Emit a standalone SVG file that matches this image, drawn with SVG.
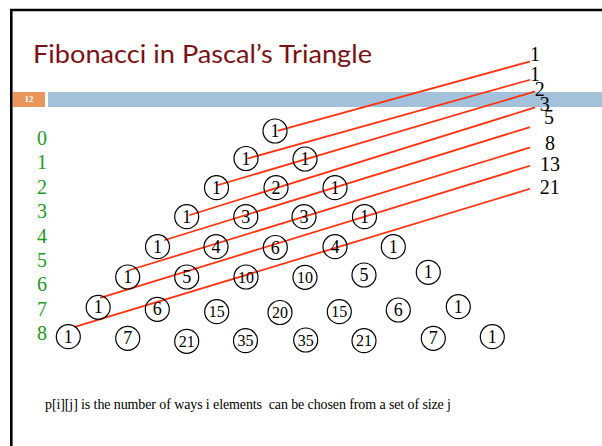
<svg xmlns="http://www.w3.org/2000/svg" width="602" height="446" viewBox="0 0 602 446">
<style>
.c circle{fill:none;stroke:#000;stroke-width:1.2}
.c text{font-family:"Liberation Serif","Times New Roman",serif;font-size:18px;fill:#000;text-anchor:middle}
.c text.d{font-size:16px}
.lab{font-family:"Liberation Serif","Times New Roman",serif;font-size:20px;fill:#229922}
.fib{font-family:"Liberation Serif","Times New Roman",serif;font-size:20px;fill:#000;text-anchor:middle}
.ln line{stroke:#ff3311;stroke-width:1.8;stroke-linecap:round}
</style>
<rect width="602" height="446" fill="#fff"/>
<path d="M11.3 446 V10 H602" fill="none" stroke="#000" stroke-width="2.6"/>
<text x="33" y="62.7" font-family="Lato,'Open Sans',sans-serif" font-size="25" fill="#7a1116" textLength="339" lengthAdjust="spacingAndGlyphs">Fibonacci in Pascal’s Triangle</text>
<rect x="13" y="92" width="32" height="15" fill="#e8965a"/>
<rect x="48" y="92" width="554" height="15" fill="#a3c1da"/>
<text x="29" y="101.7" font-family="'Liberation Serif',serif" font-size="9" font-weight="bold" fill="#fff" text-anchor="middle">12</text>

<g id="row-labels" class="lab">
<text x="37" y="145">0</text>
<text x="37" y="169.4">1</text>
<text x="37" y="193.8">2</text>
<text x="37" y="218.2">3</text>
<text x="37" y="242.6">4</text>
<text x="37" y="267">5</text>
<text x="37" y="291.4">6</text>
<text x="37" y="315.8">7</text>
<text x="37" y="340.2">8</text>
</g>

<g id="connectors" class="ln">
<line x1="278.3" y1="130.7" x2="529.3" y2="61.7"/>
<line x1="248.3" y1="158.3" x2="529.3" y2="80"/>
<line x1="218.3" y1="185" x2="534.3" y2="91.7"/>
<line x1="190" y1="215" x2="534.3" y2="107.7"/>
<line x1="165" y1="240" x2="529.3" y2="127.3"/>
<line x1="130" y1="270" x2="529.3" y2="147.7"/>
<line x1="101" y1="297.7" x2="529.3" y2="166"/>
<line x1="75.7" y1="326.7" x2="529.3" y2="189"/>
</g>

<g id="fib-labels" class="fib">
<text x="535" y="60.7">1</text>
<text x="535" y="80.7">1</text>
<text x="539.7" y="96">2</text>
<text x="544.7" y="110.7">3</text>
<text x="549" y="124">5</text>
<text x="550" y="150">8</text>
<text x="550" y="170.7">13</text>
<text x="549.7" y="194">21</text>
</g>

<g id="r0c0" class="c"><circle cx="275" cy="131" r="12"/><text x="275" y="137">1</text></g>

<g id="r1c0" class="c"><circle cx="246" cy="158.5" r="12"/><text x="246" y="164.5">1</text></g>
<g id="r1c1" class="c"><circle cx="305" cy="159" r="12"/><text x="305" y="165">1</text></g>

<g id="r2c0" class="c"><circle cx="216.5" cy="187.7" r="12"/><text x="216.5" y="193.7">1</text></g>
<g id="r2c1" class="c"><circle cx="276" cy="187.7" r="12"/><text x="276" y="193.7">2</text></g>
<g id="r2c2" class="c"><circle cx="335" cy="187.7" r="12"/><text x="335" y="193.7">1</text></g>

<g id="r3c0" class="c"><circle cx="186.7" cy="216.7" r="12"/><text x="186.7" y="222.7">1</text></g>
<g id="r3c1" class="c"><circle cx="245.8" cy="216.7" r="12"/><text x="245.8" y="222.7">3</text></g>
<g id="r3c2" class="c"><circle cx="304" cy="216.7" r="12"/><text x="304" y="222.7">3</text></g>
<g id="r3c3" class="c"><circle cx="364.5" cy="216.7" r="12"/><text x="364.5" y="222.7">1</text></g>

<g id="r4c0" class="c"><circle cx="157.5" cy="246.7" r="12"/><text x="157.5" y="252.7">1</text></g>
<g id="r4c1" class="c"><circle cx="216" cy="246.7" r="12"/><text x="216" y="252.7">4</text></g>
<g id="r4c2" class="c"><circle cx="275.3" cy="247.5" r="12"/><text x="275.3" y="253.5">6</text></g>
<g id="r4c3" class="c"><circle cx="335" cy="246.7" r="12"/><text x="335" y="252.7">4</text></g>
<g id="r4c4" class="c"><circle cx="393.3" cy="246.7" r="12"/><text x="393.3" y="252.7">1</text></g>

<g id="r5c0" class="c"><circle cx="127.7" cy="277" r="12"/><text x="127.7" y="283">1</text></g>
<g id="r5c1" class="c"><circle cx="186.7" cy="277" r="12"/><text x="186.7" y="283">5</text></g>
<g id="r5c2" class="c"><circle cx="246" cy="277" r="12"/><text class="d" x="246" y="282.5">10</text></g>
<g id="r5c3" class="c"><circle cx="305" cy="277.3" r="12"/><text class="d" x="305" y="282.8">10</text></g>
<g id="r5c4" class="c"><circle cx="364" cy="275" r="12"/><text x="364" y="281">5</text></g>
<g id="r5c5" class="c"><circle cx="428.3" cy="272.3" r="12"/><text x="428.3" y="278.3">1</text></g>

<g id="r6c0" class="c"><circle cx="98.2" cy="307.3" r="12"/><text x="98.2" y="313.3">1</text></g>
<g id="r6c1" class="c"><circle cx="157.3" cy="309.3" r="12"/><text x="157.3" y="315.3">6</text></g>
<g id="r6c2" class="c"><circle cx="216.7" cy="311.7" r="12"/><text class="d" x="216.7" y="317.2">15</text></g>
<g id="r6c3" class="c"><circle cx="280" cy="312.5" r="12"/><text class="d" x="280" y="318">20</text></g>
<g id="r6c4" class="c"><circle cx="339.3" cy="311.7" r="12"/><text class="d" x="339.3" y="317.2">15</text></g>
<g id="r6c5" class="c"><circle cx="398.3" cy="310" r="12"/><text x="398.3" y="316">6</text></g>
<g id="r6c6" class="c"><circle cx="458.3" cy="306.7" r="12"/><text x="458.3" y="312.7">1</text></g>

<g id="r7c0" class="c"><circle cx="68.3" cy="336.7" r="12"/><text x="68.3" y="342.7">1</text></g>
<g id="r7c1" class="c"><circle cx="127.7" cy="338.3" r="12"/><text x="127.7" y="344.3">7</text></g>
<g id="r7c2" class="c"><circle cx="186.7" cy="341.3" r="12"/><text class="d" x="186.7" y="346.8">21</text></g>
<g id="r7c3" class="c"><circle cx="245.5" cy="340.7" r="12"/><text class="d" x="245.5" y="346.2">35</text></g>
<g id="r7c4" class="c"><circle cx="305.7" cy="340" r="12"/><text class="d" x="305.7" y="345.5">35</text></g>
<g id="r7c5" class="c"><circle cx="364" cy="340.7" r="12"/><text class="d" x="364" y="346.2">21</text></g>
<g id="r7c6" class="c"><circle cx="433.3" cy="338.3" r="12"/><text x="433.3" y="344.3">7</text></g>
<g id="r7c7" class="c"><circle cx="492.3" cy="336.7" r="12"/><text x="492.3" y="342.7">1</text></g>

<text x="45" y="409.3" font-family="'Liberation Serif','Times New Roman',serif" font-size="14" fill="#000" xml:space="preserve" textLength="406" lengthAdjust="spacing">p[i][j] is the number of ways i elements  can be chosen from a set of size j</text>
</svg>
